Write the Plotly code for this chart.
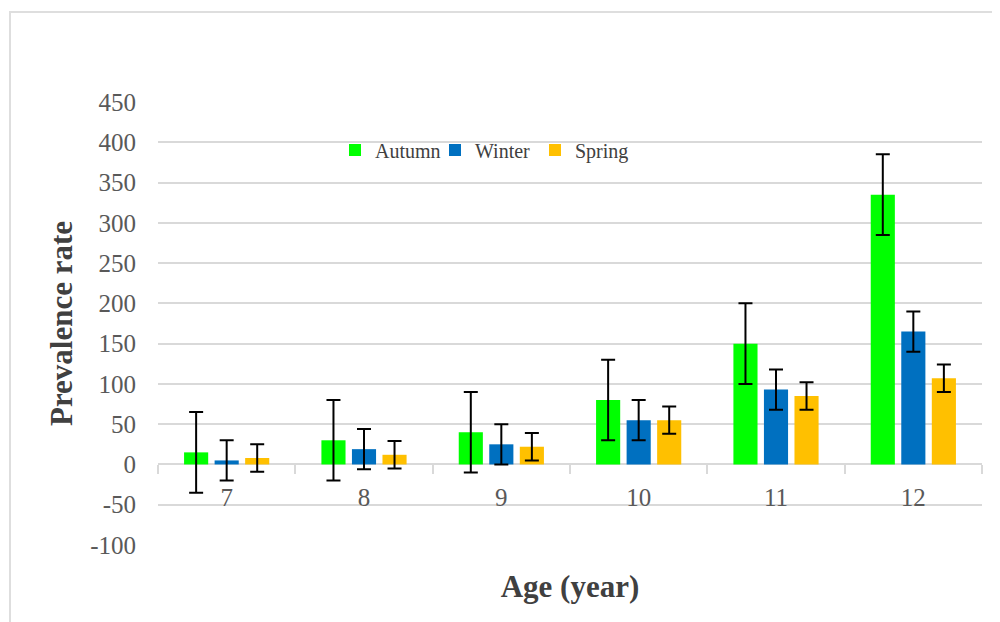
import plotly.graph_objects as go

ages = ["7", "8", "9", "10", "11", "12"]
autumn = [15, 30, 40, 80, 150, 335]
winter = [5, 19, 25, 55, 93, 165]
spring = [8, 12, 22, 55, 85, 107]
autumn_err = [50, 50, 50, 50, 50, 50]
winter_err = [25, 25, 25, 25, 25, 25]
spring_err = [17, 17, 17, 17, 17, 17]
y_ticks = [-100, -50, 0, 50, 100, 150, 200, 250, 300, 350, 400, 450]
y_tick_text = ["-100", "-50", "0", "50", "100", "150", "200", "250", "300", "350", "400", "450"]

FONT = "Liberation Serif"
GRID = "#d9d9d9"

series = [
    ("Autumn", autumn, autumn_err, "#00ff00"),
    ("Winter", winter, winter_err, "#0070c0"),
    ("Spring", spring, spring_err, "#ffc000"),
]

fig = go.Figure()
for name, vals, err, color in series:
    fig.add_trace(go.Bar(
        name=name, x=ages, y=vals,
        marker=dict(color=color, line=dict(width=0)),
        error_y=dict(type="data", array=err, visible=True,
                     color="black", thickness=2, width=7),
    ))

# page has an 8px body margin; figure placed at (8, 8)
OFF = 8
W, H = 1000 - OFF, 622 - OFF
L, R, T, B = 158 - OFF, 18, 102 - OFF, 77
pw, ph = W - L - R, H - T - B
ymin, ymax = -100, 450

fig.update_layout(
    width=W, height=H,
    margin=dict(l=L, r=R, t=T, b=B, autoexpand=False),
    paper_bgcolor="white", plot_bgcolor="white",
    barmode="group", bargap=0.333, bargroupgap=0.21,
    font=dict(family=FONT, color="#595959", size=25),
    legend=dict(
        orientation="h", x=(335 - 158) / pw, xanchor="left",
        y=(545 - 150) / ph, yanchor="middle",
        font=dict(family=FONT, size=20, color="#404040"),
        entrywidth=55, entrywidthmode="pixels", itemwidth=30,
        bgcolor="rgba(0,0,0,0)",
    ),
    showlegend=True,
)

fig.update_yaxes(
    range=[ymin, ymax], tickvals=y_ticks, ticktext=y_tick_text, ticks="",
    showgrid=True, gridcolor=GRID, gridwidth=1.5,
    zeroline=False, showline=False,
    tickfont=dict(family=FONT, size=25, color="#595959"),
    ticklabelstandoff=21,
    title=dict(text="<b>Prevalence rate</b>", standoff=8,
               font=dict(family=FONT, size=31, color="#404040")),
)

fig.update_xaxes(
    type="category", anchor="free", position=(0 - ymin) / (ymax - ymin),
    showgrid=False, showline=True, linecolor=GRID, linewidth=1.5,
    ticks="outside", tickson="boundaries", ticklen=9, tickcolor=GRID, tickwidth=1.5,
    tickfont=dict(family=FONT, size=25, color="#595959"),
    ticklabelstandoff=11,
    layer="below traces",
    title=dict(text="<b>Age (year)</b>", standoff=64,
               font=dict(family=FONT, size=31, color="#404040")),
)

# outer chart frame (page coords x=10, y=12, running off the right/bottom edges)
fig.add_shape(
    type="rect", xref="paper", yref="paper",
    x0=(10 - 158) / pw, x1=(1010 - 158) / pw,
    y0=(545 - 632) / ph, y1=(545 - 12) / ph,
    line=dict(color="#dedede", width=2), fillcolor="rgba(0,0,0,0)", layer="below",
)

fig.write_html("out.html")
